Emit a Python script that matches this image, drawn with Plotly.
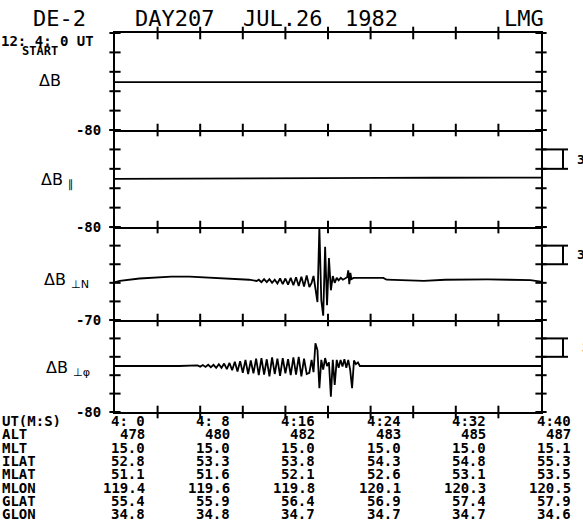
import plotly.graph_objects as go
from plotly.subplots import make_subplots

# ---------------- data ----------------
# time in minutes after 12:04:00 UT, field in nT
t_db = [0, 4, 8, 12, 16, 20, 24, 28, 32, 36, 40]
v_db = [-6, -6, -5.8, -6, -6, -5.9, -6, -5.8, -6, -6, -6]

t_dbpar = [0, 5, 10, 15, 20, 25, 30, 35, 40]
v_dbpar = [-5.5, -5, -4.8, -4.5, -4.3, -4, -3.8, -3.7, -3.5]

t_dbn = [0, 0.45, 2.3, 4.0, 5.3, 7.0, 8.3, 10.0, 11.3, 12.6, 13.3,
         13.5, 13.75, 14.0, 14.25, 14.5, 14.75, 15.0, 15.25, 15.5, 15.75,
         16.0, 16.25, 16.5, 16.75, 17.0, 17.25, 17.5, 17.75, 18.0, 18.25,
         18.46, 18.64, 18.82, 19.01, 19.19, 19.37, 19.55, 19.73, 19.91, 20.09,
         20.27, 20.45, 20.63, 20.82, 21.0, 21.2, 21.4, 21.6, 21.8, 21.9,
         22.0, 22.1, 22.2, 22.4, 23.0, 24.0, 25.2, 25.5, 27.0, 29.0,
         31.0, 33.0, 35.0, 37.0, 39.0, 40.0]
v_dbn = [-9, -7, -3, -1, 0, 0, -1, -2, -3, -5, -7,
         -5, -9, -4, -9, -4, -10, -5, -11, -3, -12,
         -3, -13, -2, -14, -1, -15, 0, -16, 2, -17,
         -10, 1, -18, -41, 80, -38, -63, 48, -46, 30,
         -22, 1, -10, -2, -6, -2, -5, -3, -1, 10,
         -12, 6, -4, -2, -2, -3, -2, -5, -6, -7,
         -5, -4.5, -4.5, -5, -5.5, -8]

t_dbphi = [0, 2, 4, 6, 7.5,
           7.75, 8.0, 8.25, 8.5, 8.75, 9.0, 9.25, 9.5, 9.75, 10.0,
           10.25, 10.5, 10.75, 11.0, 11.25, 11.5, 11.75, 12.0, 12.25, 12.5,
           12.75, 13.0, 13.25, 13.5, 13.75, 14.0, 14.25, 14.5, 14.75, 15.0,
           15.25, 15.5, 15.75, 16.0, 16.25, 16.5, 16.75, 17.0, 17.25, 17.5,
           17.75, 18.0, 18.25,
           18.46, 18.64, 18.82, 19.01, 19.19, 19.37, 19.55, 19.73, 19.91, 20.09,
           20.27, 20.45, 20.63, 20.82, 21.0, 21.18, 21.36, 21.54, 21.72, 21.9,
           22.08, 22.26, 22.44, 22.62, 22.81, 22.99,
           25, 28, 31, 34, 37, 40]
v_dbphi = [-5, -5.5, -5, -5, -5,
           -4, -6, -3.5, -6.5, -3, -7, -3, -8, -2, -8,
           -1, -10, 0, -12, 2, -14, 3, -16, 5, -18,
           4, -17, 7, -20, 8, -19, 6, -22, 9, -18,
           7, -21, 8, -17, 6, -20, 9, -19, 10, -22,
           7, -18, -16,
           5, -15, 32, 21, -41, 5, -11, 8, -5, 1,
           -55, 5, -36, 5, -8, 5, -6, 6, -8, 5,
           -11, -41, 4, -2, 1, -5,
           -5, -5.5, -5, -5, -5.5, -5]

panel_t = [t_db, t_dbpar, t_dbn, t_dbphi]
panel_v = [v_db, v_dbpar, v_dbn, v_dbphi]
panel_names = ["ΔB", "ΔB <sub>∥</sub>", "ΔB <sub>⊥N</sub>", "ΔB <sub>⊥φ</sub>"]
panel_base = [-80, -80, -70, -80]   # labelled value at the bottom of each panel
tick_step = 30
n_steps = 5

minor_minutes = [4, 8, 12, 16, 20, 24, 28, 32, 36]
ut_minutes = [0, 8, 16, 24, 32, 40]
ut_labels = ["4: 0", "4: 8", "4:16", "4:24", "4:32", "4:40"]
alt = [478, 480, 482, 483, 485, 487]
mlt = [15.0, 15.0, 15.0, 15.0, 15.0, 15.1]
ilat = [52.8, 53.3, 53.8, 54.3, 54.8, 55.3]
mlat = [51.1, 51.6, 52.1, 52.6, 53.1, 53.5]
mlon = [119.4, 119.6, 119.8, 120.1, 120.3, 120.5]
glat = [55.4, 55.9, 56.4, 56.9, 57.4, 57.9]
glon = [34.8, 34.8, 34.7, 34.7, 34.7, 34.6]
row_labels = ["UT(M:S)", "ALT", "MLT", "ILAT", "MLAT", "MLON", "GLAT", "GLON"]
scale_bar_panels = [1, 2, 3]          # panels (0-based) carrying a scale bar
scale_bar_lo = [10, 20, 10]

# ---------------- layout geometry ----------------
W, H = 583, 527
L, R, T, B = 115, 42, 33, 115
PW, PH = W - L - R, H - T - B
MONO = "DejaVu Sans Mono"


def py2paper(py):
    return (H - B - py) / PH


def px2paper(px):
    return (px - L) / PW


fig = make_subplots(rows=4, cols=1, shared_xaxes=True, vertical_spacing=0)
domains = [[0.744, 1.0], [0.488, 0.744], [0.2427, 0.488], [0.0, 0.2427]]

for i in range(4):
    r = i + 1
    base = panel_base[i]
    top = base + tick_step * n_steps
    yt = [base + tick_step * k for k in range(n_steps + 1)]
    fig.add_trace(go.Scatter(x=panel_t[i], y=panel_v[i], mode="lines",
                             line=dict(color="black", width=1.8),
                             hoverinfo="skip", showlegend=False), row=r, col=1)
    xs = list(minor_minutes)
    ys = [base] * len(minor_minutes)
    if i == 0:
        xs += minor_minutes
        ys += [top] * len(minor_minutes)
    fig.add_trace(go.Scatter(x=xs, y=ys, mode="markers", cliponaxis=False,
                             marker=dict(symbol="line-ns", size=9,
                                         line=dict(color="black", width=2)),
                             hoverinfo="skip", showlegend=False), row=r, col=1)
    fig.add_trace(go.Scatter(x=[0] * len(yt) + [40] * len(yt), y=yt + yt,
                             mode="markers", cliponaxis=False,
                             marker=dict(symbol="line-ew", size=8,
                                         line=dict(color="black", width=2)),
                             hoverinfo="skip", showlegend=False), row=r, col=1)
    yname = "yaxis" if r == 1 else f"yaxis{r}"
    xname = "xaxis" if r == 1 else f"xaxis{r}"
    fig.layout[yname].update(
        domain=domains[i], range=[base, top], tickmode="array",
        tickvals=[base], ticktext=[str(base)], ticks="",
        showline=True, mirror=True, linecolor="black", linewidth=2,
        showgrid=False, zeroline=False, ticklabelstandoff=9,
        tickfont=dict(family=MONO, size=14, color="black", weight="bold"))
    fig.layout[xname].update(
        range=[0, 40], showline=True, mirror=(i == 0), linecolor="black",
        linewidth=2, ticks="", showticklabels=False, showgrid=False,
        zeroline=False)

annotations = []


def ann(text, px, py, size, xanchor="left", family=MONO, weight="normal",
        height=None):
    d = dict(text=text, xref="paper", yref="paper",
             x=px2paper(px), y=py2paper(py), xanchor=xanchor,
             yanchor="middle", showarrow=False, borderpad=0,
             font=dict(family=family, size=size, color="black", weight=weight))
    if height:
        d["height"] = height
    annotations.append(d)


# title row
ann("DE-2", 32, 18, 22)
ann("DAY207", 134, 18, 22)
ann("JUL.26", 242, 18, 22)
ann("1982", 344, 18, 22)
ann("LMG", 503, 18, 22)
ann("12: 4: 0 UT", 0, 40, 14, weight="bold", height=11)
ann("START", 21, 51, 12, weight="bold", height=10)

# panel names
name_pos = [(38, 80), (40, 180), (43, 280), (45, 368)]
for nm, (px, py) in zip(panel_names, name_pos):
    ann(nm, px, py, 16, family="DejaVu Sans")

# ephemeris table
row_y = [421, 434.3, 447.6, 460.9, 474.2, 487.5, 500.8, 514.1]
cols = [ut_labels, [f"{a:d}" for a in alt], [f"{a:.1f}" for a in mlt],
        [f"{a:.1f}" for a in ilat], [f"{a:.1f}" for a in mlat],
        [f"{a:.1f}" for a in mlon], [f"{a:.1f}" for a in glat],
        [f"{a:.1f}" for a in glon]]
for lab, yy, vals in zip(row_labels, row_y, cols):
    ann(lab, 1, yy, 14, weight="bold", height=12)
    for m, s in zip(ut_minutes, vals):
        annotations.append(dict(text=s, xref="x4", yref="paper", x=m,
                                y=py2paper(yy), xanchor="right", yanchor="middle",
                                xshift=31, showarrow=False, borderpad=0,
                                height=12,
                                font=dict(family=MONO, size=14, color="black",
                                          weight="bold")))

# scale bars on the right
shapes = []
x_axis_px = W - R
for p, lo in zip(scale_bar_panels, scale_bar_lo):
    yref = "y" if p == 0 else f"y{p + 1}"
    hi = lo + tick_step
    for yy in (lo, hi):
        shapes.append(dict(type="line", xref="paper", yref=yref,
                           x0=1.0, x1=px2paper(x_axis_px + 27), y0=yy, y1=yy,
                           line=dict(color="black", width=2)))
    shapes.append(dict(type="line", xref="paper", yref=yref,
                       x0=px2paper(x_axis_px + 22), x1=px2paper(x_axis_px + 22),
                       y0=lo, y1=hi, line=dict(color="black", width=2)))
    annotations.append(dict(text="3", xref="paper", yref=yref,
                            x=px2paper(x_axis_px + 35 if p < 3 else x_axis_px + 40),
                            y=(lo + hi) / 2, xanchor="left", yanchor="middle",
                            showarrow=False, borderpad=0,
                            font=dict(family=MONO, size=13, color="black",
                                      weight="bold")))

fig.update_layout(width=W, height=H, margin=dict(l=L, r=R, t=T, b=B),
                  paper_bgcolor="white", plot_bgcolor="white",
                  showlegend=False, annotations=annotations, shapes=shapes)

fig.write_html("out.html", config={"displayModeBar": False},
               post_script="document.body.style.margin='0px';"
                           "document.body.style.overflow='hidden';")
